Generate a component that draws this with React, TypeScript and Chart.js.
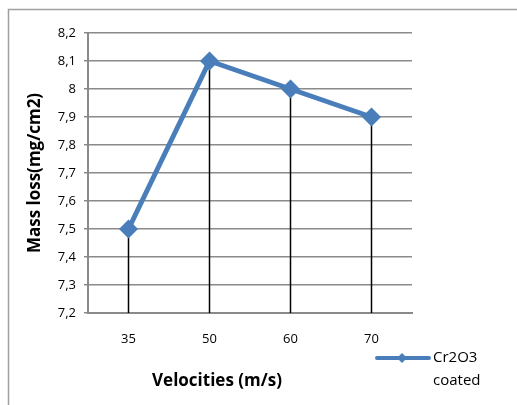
import React, { useEffect, useRef } from "react";
import { Chart, registerables } from "chart.js";

Chart.register(...registerables);

const categories = ["35", "50", "60", "70"];
const massLoss = [7.5, 8.1, 8.0, 7.9];
const seriesName = ["Cr2O3", "coated"];
const yMin = 7.2;
const yMax = 8.2;
const yStep = 0.1;
const xTitle = "Velocities (m/s)";
const yTitle = "Mass loss(mg/cm2)";

const BLUE = "#4a7ebb";
const GRID = "#8a8a8a";
const FONT = "'Open Sans', sans-serif";

export default function App() {
  const ref = useRef<HTMLCanvasElement>(null);
  useEffect(() => {
    document.body.style.margin = "0";
    const extras = {
      id: "extras",
      beforeDatasetsDraw(chart: any) {
        const { ctx, chartArea } = chart;
        const meta = chart.getDatasetMeta(0);
        ctx.save();
        ctx.strokeStyle = "#000";
        ctx.lineWidth = 1.5;
        meta.data.forEach((pt: any) => {
          ctx.beginPath();
          ctx.moveTo(pt.x, pt.y);
          ctx.lineTo(pt.x, chartArea.bottom);
          ctx.stroke();
        });
        ctx.restore();
      },
      afterDraw(chart: any) {
        const { ctx, chartArea } = chart;
        ctx.save();
        // outer border
        ctx.strokeStyle = "#a0a0a0";
        ctx.lineWidth = 1.5;
        ctx.strokeRect(8.5, 9.5, 600, 500);
        // y title
        ctx.fillStyle = "#000";
        ctx.font = `bold 17px ${FONT}`;
        ctx.textAlign = "center";
        ctx.textBaseline = "middle";
        ctx.save();
        ctx.translate(35, (chartArea.top + chartArea.bottom) / 2);
        ctx.rotate(-Math.PI / 2);
        ctx.fillText(yTitle, 0, 0);
        ctx.restore();
        // x title
        ctx.fillText(xTitle, 217, 381);
        // legend
        const ly = 358;
        ctx.strokeStyle = BLUE;
        ctx.lineWidth = 4;
        ctx.lineCap = "round";
        ctx.beginPath();
        ctx.moveTo(377, ly);
        ctx.lineTo(429, ly);
        ctx.stroke();
        ctx.fillStyle = BLUE;
        ctx.beginPath();
        ctx.moveTo(402, ly - 5);
        ctx.lineTo(407, ly);
        ctx.lineTo(402, ly + 5);
        ctx.lineTo(397, ly);
        ctx.closePath();
        ctx.fill();
        ctx.fillStyle = "#000";
        ctx.font = `15px ${FONT}`;
        ctx.textAlign = "left";
        ctx.fillText(seriesName[0], 433, ly);
        ctx.fillText(seriesName[1], 433, ly + 23);
        ctx.restore();
      },
    };
    const chart = new Chart(ref.current!, {
      type: "line",
      data: {
        labels: categories,
        datasets: [
          {
            label: seriesName.join(" "),
            data: massLoss,
            borderColor: BLUE,
            backgroundColor: BLUE,
            borderWidth: 5,
            pointStyle: "rectRot",
            pointRadius: 6,
            pointBackgroundColor: BLUE,
            pointBorderColor: BLUE,
            tension: 0,
          },
        ],
      },
      options: {
        animation: false,
        responsive: false,
        layout: { padding: { left: 28, right: 105, top: 33, bottom: 52 } },
        plugins: { legend: { display: false }, tooltip: { enabled: false } },
        scales: {
          x: {
            offset: true,
            grid: { display: false, drawOnChartArea: false },
            border: { display: true, color: GRID, width: 2 },
            ticks: { color: "#000", font: { family: FONT, size: 13 }, padding: 10 },
            afterFit: (s: any) => { s.height = 40; },
          },
          y: {
            min: yMin,
            max: yMax,
            grid: { color: GRID, lineWidth: 1.5, tickLength: 4, drawTicks: true },
            border: { display: true, color: GRID, width: 2 },
            ticks: {
              stepSize: yStep,
              color: "#000",
              font: { family: FONT, size: 13 },
              padding: 8,
              callback: (v: any) => String(Number(Number(v).toFixed(1))).replace(".", ","),
            },
            afterFit: (s: any) => { s.width = 60; },
          },
        },
      },
      plugins: [extras],
    });
    return () => chart.destroy();
  }, []);
  return <canvas ref={ref} width={517} height={405} style={{ display: "block" }} />;
}
